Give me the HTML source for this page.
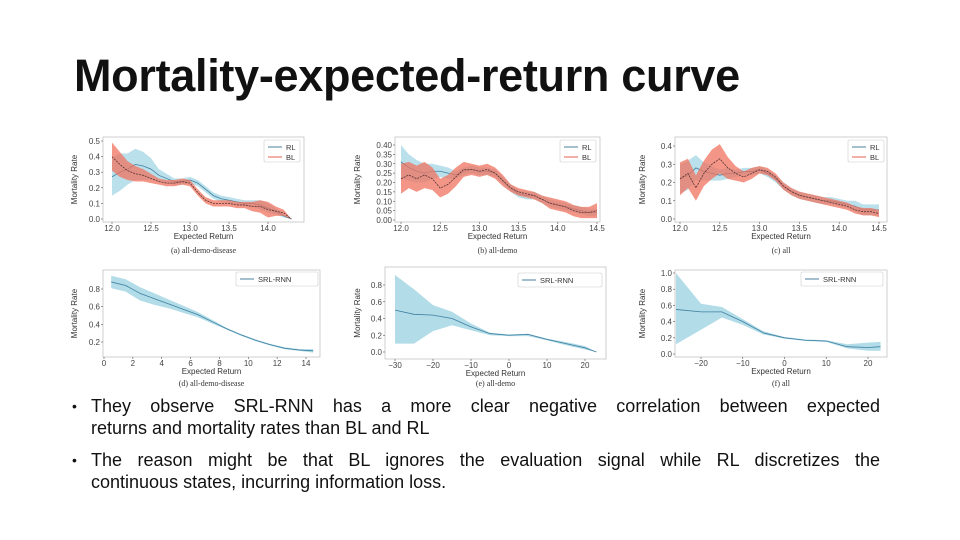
<!DOCTYPE html>
<html><head><meta charset="utf-8">
<style>
html,body{margin:0;padding:0;background:#fff;}
body{width:960px;height:540px;position:relative;overflow:hidden;font-family:"Liberation Sans",sans-serif;}
#title{position:absolute;left:74px;top:50px;font-size:45px;font-weight:bold;color:#111;letter-spacing:-0.3px;margin:0;white-space:nowrap;}
.bullet{position:absolute;left:91px;width:789px;font-size:18px;line-height:21.5px;color:#111;}
.bullet:before{content:"•";position:absolute;left:-19px;font-size:14px;}
.jl{display:block;text-align:justify;text-align-last:justify;white-space:nowrap;}
.ll{display:block;white-space:nowrap;}
#charts{position:absolute;left:0;top:0;}
</style></head><body>
<h1 id="title">Mortality-expected-return curve</h1>
<div class="bullet" style="top:396px"><span class="jl">They observe SRL-RNN has a more clear negative correlation between expected</span><span class="ll">returns and mortality rates than BL and RL</span></div>
<div class="bullet" style="top:450px"><span class="jl">The reason might be that BL ignores the evaluation signal while RL discretizes the</span><span class="ll">continuous states, incurring information loss.</span></div>
<svg id="charts" width="960" height="540"></svg>
<script>
// ---- data ----
const aX=[12.0,12.1,12.2,12.3,12.4,12.5,12.6,12.7,12.8,12.9,13.0,13.1,13.2,13.3,13.4,13.5,13.6,13.7,13.8,13.9,14.0,14.1,14.2,14.3];
const aRL=[0.27,0.30,0.32,0.35,0.34,0.32,0.28,0.26,0.24,0.24,0.25,0.23,0.19,0.15,0.13,0.12,0.11,0.10,0.10,0.09,0.07,0.05,0.02,0.0];
const aRLh=[0.12,0.12,0.10,0.10,0.09,0.07,0.04,0.03,0.02,0.02,0.02,0.02,0.02,0.02,0.02,0.02,0.02,0.02,0.02,0.03,0.03,0.02,0.01,0.0];
const aBL=[0.40,0.35,0.31,0.29,0.28,0.26,0.24,0.23,0.23,0.24,0.23,0.17,0.12,0.10,0.10,0.10,0.09,0.09,0.08,0.08,0.06,0.05,0.04,0.0];
const aBLh=[0.09,0.08,0.06,0.05,0.04,0.03,0.02,0.02,0.02,0.02,0.02,0.02,0.02,0.02,0.02,0.02,0.02,0.02,0.03,0.04,0.05,0.03,0.02,0.0];
const bX=[12.0,12.1,12.2,12.3,12.4,12.5,12.6,12.7,12.8,12.9,13.0,13.1,13.2,13.3,13.4,13.5,13.6,13.7,13.8,13.9,14.0,14.1,14.2,14.3,14.4,14.5];
const bRL=[0.31,0.28,0.26,0.25,0.26,0.26,0.25,0.24,0.26,0.27,0.26,0.26,0.25,0.21,0.17,0.14,0.13,0.13,0.11,0.09,0.08,0.07,0.06,0.05,0.04,0.04];
const bRLh=[0.09,0.07,0.06,0.05,0.04,0.03,0.03,0.02,0.02,0.02,0.02,0.02,0.02,0.02,0.02,0.02,0.02,0.02,0.02,0.02,0.02,0.02,0.02,0.02,0.02,0.02];
const bBL=[0.22,0.24,0.22,0.24,0.22,0.17,0.19,0.23,0.27,0.27,0.26,0.27,0.25,0.21,0.17,0.15,0.14,0.13,0.11,0.09,0.08,0.07,0.05,0.04,0.04,0.05];
const bBLh=[0.08,0.07,0.07,0.07,0.06,0.05,0.05,0.05,0.04,0.03,0.03,0.03,0.03,0.03,0.02,0.02,0.02,0.02,0.02,0.03,0.03,0.03,0.03,0.03,0.03,0.04];
const cX=bX;
const cRL=[0.22,0.24,0.28,0.26,0.25,0.24,0.25,0.25,0.26,0.26,0.27,0.25,0.22,0.18,0.15,0.13,0.12,0.11,0.10,0.10,0.09,0.08,0.07,0.05,0.05,0.05];
const cRLh=[0.08,0.08,0.07,0.05,0.04,0.03,0.03,0.02,0.02,0.02,0.02,0.02,0.02,0.02,0.02,0.02,0.02,0.02,0.02,0.02,0.02,0.02,0.03,0.03,0.03,0.03];
const cBL=[0.22,0.25,0.17,0.25,0.30,0.33,0.28,0.25,0.23,0.25,0.27,0.26,0.23,0.18,0.15,0.13,0.12,0.11,0.10,0.09,0.08,0.07,0.05,0.04,0.04,0.03];
const cBLh=[0.09,0.08,0.07,0.07,0.08,0.08,0.06,0.04,0.03,0.03,0.02,0.02,0.02,0.02,0.02,0.02,0.02,0.02,0.02,0.02,0.02,0.02,0.02,0.02,0.02,0.02];
const dX=[0.5,1.5,2.5,3.5,4.5,5.5,6.5,7.5,8.5,9.5,10.5,11.5,12.5,13.5,14.5];
const dM=[0.88,0.84,0.75,0.69,0.63,0.57,0.51,0.43,0.35,0.28,0.22,0.17,0.13,0.11,0.10];
const dLo=[0.81,0.77,0.67,0.62,0.58,0.53,0.48,0.41,0.34,0.27,0.21,0.16,0.12,0.10,0.08];
const dHi=[0.95,0.91,0.82,0.75,0.68,0.61,0.54,0.45,0.36,0.29,0.23,0.18,0.14,0.12,0.12];
const eX=[-30,-25,-20,-15,-10,-5,0,5,10,15,20,23];
const eM=[0.50,0.45,0.44,0.40,0.30,0.22,0.20,0.21,0.15,0.10,0.05,0.00];
const eLo=[0.10,0.10,0.25,0.32,0.26,0.20,0.19,0.19,0.14,0.08,0.03,0.00];
const eHi=[0.92,0.75,0.56,0.48,0.34,0.23,0.21,0.22,0.16,0.12,0.07,0.00];
const fX=[-26,-20,-15,-10,-5,0,5,10,15,20,23];
const fM=[0.55,0.52,0.52,0.40,0.26,0.20,0.17,0.16,0.09,0.08,0.09];
const fLo=[0.12,0.30,0.45,0.36,0.24,0.19,0.16,0.15,0.07,0.04,0.04];
const fHi=[1.00,0.62,0.58,0.43,0.28,0.21,0.18,0.17,0.12,0.14,0.15];
const tickA=[12.0,12.5,13.0,13.5,14.0], tickAY=[0,0.1,0.2,0.3,0.4,0.5];
const tickB=[12.0,12.5,13.0,13.5,14.0,14.5], tickBY=[0,0.05,0.1,0.15,0.2,0.25,0.3,0.35,0.4];
const tickCY=[0,0.1,0.2,0.3,0.4];
const tickD=[0,2,4,6,8,10,12,14], tickDY=[0.2,0.4,0.6,0.8];
const tickE=[-30,-20,-10,0,10,20], tickEY=[0,0.2,0.4,0.6,0.8];
const tickF=[-20,-10,0,10,20], tickFY=[0,0.2,0.4,0.6,0.8,1.0];

const NS='http://www.w3.org/2000/svg';
const svg=document.getElementById('charts');
function mk(tag,attrs,parent,text){const e=document.createElementNS(NS,tag);for(const k in attrs)e.setAttribute(k,attrs[k]);if(text!==undefined)e.textContent=text;(parent||svg).appendChild(e);return e;}
function fmt(v,d){return v.toFixed(d).replace('-','\u2212');}
function chart(c){
  const g=mk('g',{});
  
  
  const sx=v=>c.x0p+(v-c.x0v)*(c.x1p-c.x0p)/(c.x1v-c.x0v);
  const sy=v=>c.y0p+(v-c.y0v)*(c.y1p-c.y0p)/(c.y1v-c.y0v);
  mk('rect',{x:c.L,y:c.T,width:c.R-c.L,height:c.B-c.T,fill:'none',stroke:'#bbb','stroke-width':0.7},g);
  c.xt.forEach(v=>{const x=sx(v);mk('line',{x1:x,x2:x,y1:c.B,y2:c.B+2,stroke:'#555','stroke-width':0.6},g);
    const t=mk('text',{x:x,y:c.B+9,'font-size':8,'text-anchor':'middle',fill:'#444'},g,fmt(v,c.xd));});
  c.yt.forEach(v=>{const y=sy(v);mk('line',{x1:c.L-2,x2:c.L,y1:y,y2:y,stroke:'#555','stroke-width':0.6},g);
    const t=mk('text',{x:c.L-3,y:y+3,'font-size':8,'text-anchor':'end',fill:'#444'},g,fmt(v,c.yd));});
  c.series.forEach(s=>{
    const up=s.x.map((v,i)=>sx(v)+','+sy(s.hi[i])), dn=s.x.map((v,i)=>sx(v)+','+sy(s.lo[i])).reverse();
    const band=mk('polygon',{points:up.concat(dn).join(' '),fill:s.band,'fill-opacity':s.op},g);
    
    const ln=mk('polyline',{points:s.x.map((v,i)=>sx(v)+','+sy(s.m[i])).join(' '),fill:'none',stroke:s.line,'stroke-width':0.8,'stroke-dasharray':s.dash||''},g);
    
  });
  const xl=mk('text',{x:(c.L+c.R)/2,y:c.B+17,'font-size':8,'text-anchor':'middle',fill:'#333'},g,'Expected Return');
  
  const yx=c.ylx,yy=(c.T+c.B)/2;
  const yl=mk('text',{x:yx,y:yy,'font-size':8,'text-anchor':'middle',fill:'#333',transform:'rotate(-90 '+yx+' '+yy+')'},g,'Mortality Rate');
  
  const cap=mk('text',{x:(c.L+c.R)/2,y:c.capy,'font-size':8,'text-anchor':'middle',fill:'#333','font-family':'Liberation Serif,serif'},g,c.cap);
  
  const lg=mk('g',{},g);
  mk('rect',{x:c.lg[0],y:c.lg[1],width:c.lg[2],height:c.lg[3],fill:'#fff',stroke:'#ccc','stroke-width':0.6,rx:1.5},lg);
  c.series.forEach((s,i)=>{const y=c.lg[1]+7+i*10;
    mk('line',{x1:c.lg[0]+4,x2:c.lg[0]+18,y1:y,y2:y,stroke:s.leg,'stroke-width':1},lg);
    const t=mk('text',{x:c.lg[0]+22,y:y+3,'font-size':7.5,fill:'#333'},lg,s.label);});
}
const BLUE='#a9d8e6',RED='#f0735f';
function two(x,rl,rlh,bl,blh){return[
 {name:'rl',label:'RL',x:x,m:rl,lo:rl.map((v,i)=>v-rlh[i]),hi:rl.map((v,i)=>v+rlh[i]),band:BLUE,op:0.8,line:'#3f7fa0',leg:'#4a7f9c'},
 {name:'bl',label:'BL',x:x,m:bl,lo:bl.map((v,i)=>v-blh[i]),hi:bl.map((v,i)=>v+blh[i]),band:RED,op:0.75,line:'#553333',dash:'2,1',leg:'#e8604c'}];}
chart({id:'a',L:103,R:304,T:137,B:222,x0v:12,x1v:14,x0p:112,x1p:268,y0v:0,y1v:0.5,y0p:219,y1p:141,xt:tickA,yt:tickAY,xd:1,yd:1,ylx:77,capy:253,cap:'(a)  all-demo-disease',lg:[264,140,36,22],series:two(aX,aRL,aRLh,aBL,aBLh)});
chart({id:'b',L:395,R:600,T:137,B:222,x0v:12,x1v:14.5,x0p:401,x1p:597,y0v:0,y1v:0.4,y0p:220,y1p:145,xt:tickB,yt:tickBY,xd:1,yd:2,ylx:360,capy:253,cap:'(b)  all-demo',lg:[560,140,36,22],series:two(bX,bRL,bRLh,bBL,bBLh)});
chart({id:'c',L:675,R:887,T:137,B:222,x0v:12,x1v:14.5,x0p:680,x1p:879,y0v:0,y1v:0.4,y0p:219,y1p:146,xt:tickB,yt:tickCY,xd:1,yd:1,ylx:645,capy:253,cap:'(c)  all',lg:[848,140,36,22],series:two(cX,cRL,cRLh,cBL,cBLh)});
function one(x,m,lo,hi){return[{name:'srl-rnn',label:'SRL-RNN',x:x,m:m,lo:lo,hi:hi,band:BLUE,op:0.9,line:'#3f7fa0',leg:'#4a7f9c'}];}
chart({id:'d',L:103,R:320,T:270,B:357,x0v:0,x1v:14,x0p:104,x1p:306,y0v:0.2,y1v:0.8,y0p:342,y1p:289,xt:tickD,yt:tickDY,xd:0,yd:1,ylx:77,capy:386,cap:'(d)  all-demo-disease',lg:[236,272,82,14],series:one(dX,dM,dLo,dHi)});
chart({id:'e',L:385,R:606,T:267,B:359,x0v:-30,x1v:20,x0p:395,x1p:585,y0v:0,y1v:0.8,y0p:352,y1p:285,xt:tickE,yt:tickEY,xd:0,yd:1,ylx:360,capy:386,cap:'(e)  all-demo',lg:[518,273,84,14],series:one(eX,eM,eLo,eHi)});
chart({id:'f',L:675,R:887,T:270,B:357,x0v:-20,x1v:20,x0p:701,x1p:868,y0v:0,y1v:1.0,y0p:354,y1p:273,xt:tickF,yt:tickFY,xd:0,yd:1,ylx:645,capy:386,cap:'(f)  all',lg:[801,272,82,14],series:one(fX,fM,fLo,fHi)});
</script>
</body></html>
